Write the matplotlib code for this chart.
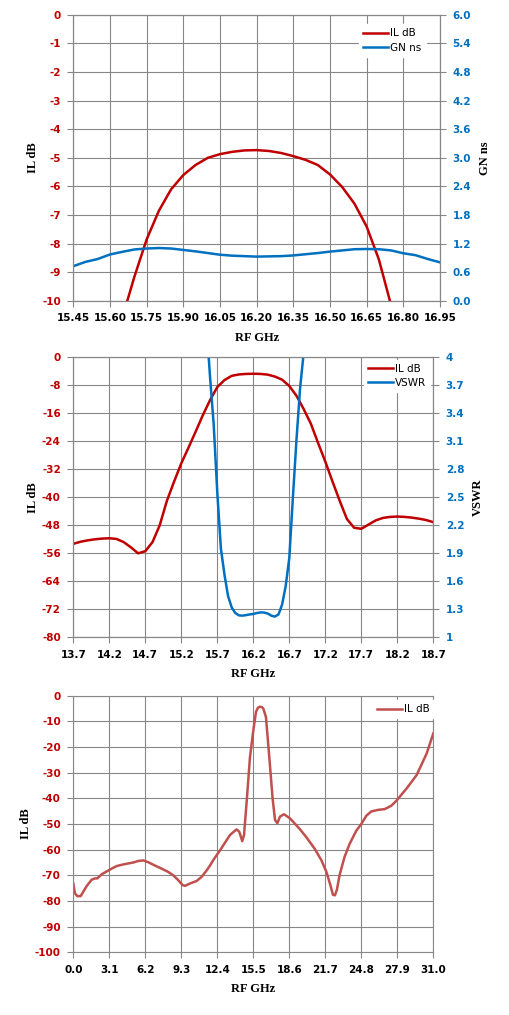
import numpy as np
import matplotlib
matplotlib.use("Agg")
import matplotlib.pyplot as plt

# ---- chart 1 : passband IL and group delay ----
f1_il = [15.65, 15.70, 15.75, 15.80, 15.85, 15.90, 15.95, 16.00, 16.05, 16.10, 16.15, 16.20,
         16.25, 16.30, 16.35, 16.40, 16.45, 16.50, 16.55, 16.60, 16.65, 16.70, 16.75, 16.80]
il1 = [-10.6, -9.15, -7.85, -6.85, -6.1, -5.6, -5.25, -5.0, -4.87, -4.79, -4.74, -4.73,
       -4.76, -4.83, -4.94, -5.07, -5.25, -5.58, -6.02, -6.6, -7.4, -8.55, -10.15, -12.0]
f1_gd = [15.45, 15.50, 15.55, 15.60, 15.65, 15.70, 15.75, 15.80, 15.85, 15.90, 15.95, 16.00,
         16.05, 16.10, 16.15, 16.20, 16.25, 16.30, 16.35, 16.40, 16.45, 16.50, 16.55, 16.60,
         16.65, 16.70, 16.75, 16.80, 16.85, 16.90, 16.95]
gd1 = [0.73, 0.82, 0.88, 0.975, 1.03, 1.08, 1.10, 1.11, 1.10, 1.07, 1.04, 1.005,
       0.97, 0.95, 0.94, 0.93, 0.935, 0.94, 0.955, 0.98, 1.005, 1.035, 1.06, 1.085,
       1.09, 1.085, 1.06, 1.00, 0.96, 0.88, 0.81]
xt1 = [15.45, 15.60, 15.75, 15.90, 16.05, 16.20, 16.35, 16.50, 16.65, 16.80, 16.95]
yt1 = [-10, -9, -8, -7, -6, -5, -4, -3, -2, -1, 0]
yt1r = [0.0, 0.6, 1.2, 1.8, 2.4, 3.0, 3.6, 4.2, 4.8, 5.4, 6.0]

# ---- chart 2 : IL and VSWR ----
f2_il = [13.7, 13.8, 13.9, 14.0, 14.1, 14.2, 14.3, 14.4, 14.5, 14.6, 14.7, 14.8, 14.9,
         15.0, 15.1, 15.2, 15.3, 15.4, 15.5, 15.6, 15.7, 15.8, 15.9, 16.0, 16.1, 16.2,
         16.3, 16.4, 16.5, 16.6, 16.7, 16.8, 16.9, 17.0, 17.1, 17.2, 17.3, 17.4, 17.5,
         17.6, 17.7, 17.8, 17.9, 18.0, 18.1, 18.2, 18.3, 18.4, 18.5, 18.6, 18.7]
il2 = [-53.3, -52.7, -52.3, -52.0, -51.8, -51.7, -51.9, -52.8, -54.3, -56.0, -55.4, -52.8, -48.0,
       -41.0, -35.5, -30.3, -25.8, -21.2, -16.5, -12.2, -8.5, -6.5, -5.3, -4.9, -4.75, -4.7,
       -4.75, -4.95, -5.5, -6.4, -8.2, -11.0, -14.8, -19.0, -24.5, -29.8, -35.5, -41.0, -46.2,
       -48.7, -49.0, -47.8, -46.6, -45.9, -45.6, -45.5, -45.6, -45.8, -46.1, -46.5, -47.1]
f2_vs = [15.55, 15.60, 15.65, 15.70, 15.75, 15.80, 15.85, 15.90, 15.95, 16.00, 16.05, 16.10,
         16.15, 16.20, 16.25, 16.30, 16.35, 16.40, 16.45, 16.50, 16.55, 16.60, 16.65, 16.70,
         16.75, 16.80, 16.85, 16.90, 16.95]
vswr2 = [4.35, 3.78, 3.28, 2.55, 1.95, 1.67, 1.44, 1.32, 1.26, 1.235, 1.232, 1.238,
         1.245, 1.25, 1.26, 1.267, 1.265, 1.255, 1.232, 1.222, 1.245, 1.35, 1.55, 1.85,
         2.5, 3.12, 3.67, 4.05, 4.5]
xt2 = [13.7, 14.2, 14.7, 15.2, 15.7, 16.2, 16.7, 17.2, 17.7, 18.2, 18.7]
yt2 = [-80, -72, -64, -56, -48, -40, -32, -24, -16, -8, 0]
yt2r = [1, 1.3, 1.6, 1.9, 2.2, 2.5, 2.8, 3.1, 3.4, 3.7, 4]
yt2r_lab = ['1', '1.3', '1.6', '1.9', '2.2', '2.5', '2.8', '3.1', '3.4', '3.7', '4']

# ---- chart 3 : wideband IL ----
f3 = [0.0, 0.14, 0.34, 0.63, 0.86, 1.15, 1.58, 1.87, 2.07, 2.44, 2.87, 3.30, 3.73, 4.16,
      4.59, 5.17, 5.60, 6.03, 6.46, 7.03, 7.61, 8.18, 8.61, 9.04, 9.41, 9.62, 10.05, 10.62,
      11.05, 11.48, 11.77, 12.06, 12.63, 13.49, 14.06, 14.29, 14.55, 14.70, 14.93, 15.21,
      15.5, 15.73, 15.9, 16.07, 16.25, 16.36, 16.59, 16.88, 17.16, 17.37, 17.57, 17.8,
      18.14, 18.66, 19.49, 20.06, 20.78, 21.36, 21.79, 22.13, 22.36, 22.53, 22.70, 22.93,
      23.36, 23.80, 24.37, 24.80, 25.23, 25.66, 26.24, 26.81, 27.38, 27.81, 28.71, 29.57,
      30.43, 31.0]
il3 = [-73.2, -77.0, -78.1, -78.1, -76.4, -74.2, -71.7, -71.2, -71.2, -69.6, -68.5, -67.4,
       -66.4, -65.9, -65.5, -65.0, -64.4, -64.2, -64.9, -66.2, -67.4, -68.7, -70.0, -71.9,
       -73.8, -74.1, -73.2, -72.2, -70.6, -68.1, -66.2, -64.0, -60.3, -54.3, -52.1, -53.0,
       -56.7, -54.3, -41.2, -24.1, -13.6, -6.3, -4.7, -4.3, -4.5, -5.0, -8.3, -24.1, -39.9,
       -48.4, -49.7, -47.1, -46.2, -47.8, -51.9, -55.1, -59.6, -64.1, -68.6, -73.7, -77.6,
       -77.8, -75.6, -69.9, -62.8, -57.7, -52.6, -50.0, -46.8, -45.1, -44.5, -44.2, -42.9,
       -41.0, -36.1, -30.9, -22.5, -14.7]
xt3 = [0.0, 3.1, 6.2, 9.3, 12.4, 15.5, 18.6, 21.7, 24.8, 27.9, 31.0]
yt3 = [-100, -90, -80, -70, -60, -50, -40, -30, -20, -10, 0]

RED = '#C00000'
BLUE = '#0070C0'
RED3 = '#C0504D'
GRID = '#878787'
TICKFONT = 'DejaVu Sans'
LABFONT = 'Liberation Serif'

W, H = 509, 1015


def box(l, t, r, b):
    return [l / W, 1 - b / H, (r - l) / W, (b - t) / H]


def style(ax, col):
    ax.grid(True, color=GRID, lw=0.8)
    ax.set_axisbelow(True)
    for s in ax.spines.values():
        s.set_color(GRID)
        s.set_linewidth(0.8)
    ax.tick_params(direction='out', length=4, width=0.8, color=GRID, pad=4)
    ax.tick_params(axis='y', labelcolor=col, pad=5)
    ax.tick_params(axis='x', labelcolor='black', pad=5)


def boldticks(ax, size=7.5):
    for t in ax.get_xticklabels() + ax.get_yticklabels():
        t.set_fontweight('bold')
        t.set_fontfamily(TICKFONT)
        t.set_fontsize(size)


def labels(ax, ylab, ypad):
    ax.set_xlabel('RF GHz', fontfamily=LABFONT, fontweight='bold', fontsize=9, labelpad=6)
    ax.set_ylabel(ylab, fontfamily=LABFONT, fontweight='bold', fontsize=9, labelpad=ypad)


def rightaxis(axr, ylab, ypad):
    for s in axr.spines.values():
        s.set_color(GRID)
        s.set_linewidth(0.8)
    axr.tick_params(direction='out', length=4, width=0.8, color=GRID, labelcolor=BLUE, pad=5)
    axr.set_ylabel(ylab, fontfamily=LABFONT, fontweight='bold', fontsize=9, labelpad=ypad)


def legend(ax, handles, anchor):
    return ax.legend(handles=handles, loc='upper right', bbox_to_anchor=anchor,
                     frameon=True, fancybox=False, edgecolor='white', framealpha=1,
                     prop={'family': TICKFONT, 'size': 7.5}, handlelength=2.4,
                     handletextpad=0.2, borderpad=0.4, labelspacing=0.4)


fig = plt.figure(figsize=(W / 100, H / 100), dpi=100)

# chart 1
ax1 = fig.add_axes(box(73.3, 14.7, 440, 301))
style(ax1, RED)
l1, = ax1.plot(f1_il, il1, color=RED, lw=1.8, label='IL dB')
ax1.set_xlim(15.45, 16.95)
ax1.set_ylim(-10, 0)
ax1.set_xticks(xt1)
ax1.set_xticklabels(['%.2f' % v for v in xt1])
ax1.set_yticks(yt1)
ax1.set_yticklabels(['%d' % v for v in yt1])
labels(ax1, 'IL dB', 2)
ax1r = ax1.twinx()
l2, = ax1r.plot(f1_gd, gd1, color=BLUE, lw=1.8, label='GN ns')
ax1r.set_ylim(0, 6)
ax1r.set_yticks(yt1r)
ax1r.set_yticklabels(['%.1f' % v for v in yt1r])
rightaxis(ax1r, 'GN ns', 6)
boldticks(ax1)
boldticks(ax1r)
legend(ax1r, [l1, l2], (0.975, 0.985))

# chart 2
ax2 = fig.add_axes(box(73.3, 357.3, 433.3, 637.3))
style(ax2, RED)
l3, = ax2.plot(f2_il, il2, color=RED, lw=1.8, label='IL dB')
ax2.set_xlim(13.7, 18.7)
ax2.set_ylim(-80, 0)
ax2.set_xticks(xt2)
ax2.set_xticklabels(['%.1f' % v for v in xt2])
ax2.set_yticks(yt2)
ax2.set_yticklabels(['%d' % v for v in yt2])
labels(ax2, 'IL dB', 2)
ax2r = ax2.twinx()
l4, = ax2r.plot(f2_vs, vswr2, color=BLUE, lw=1.8, label='VSWR')
ax2r.set_ylim(1, 4)
ax2r.set_yticks(yt2r)
ax2r.set_yticklabels(yt2r_lab)
rightaxis(ax2r, 'VSWR', 5)
boldticks(ax2)
boldticks(ax2r)
legend(ax2r, [l3, l4], (1.006, 1.01))

# chart 3
ax3 = fig.add_axes(box(73.3, 695.7, 433.3, 952.3))
style(ax3, RED)
l5, = ax3.plot(f3, il3, color=RED3, lw=1.8, label='IL dB')
ax3.set_xlim(0, 31)
ax3.set_ylim(-100, 0)
ax3.set_xticks(xt3)
ax3.set_xticklabels(['%.1f' % v for v in xt3])
ax3.set_yticks(yt3)
ax3.set_yticklabels(['%d' % v for v in yt3])
labels(ax3, 'IL dB', 2)
boldticks(ax3)
legend(ax3, [l5], (1.017, 1.003))

fig.savefig('out.png', dpi=100)
